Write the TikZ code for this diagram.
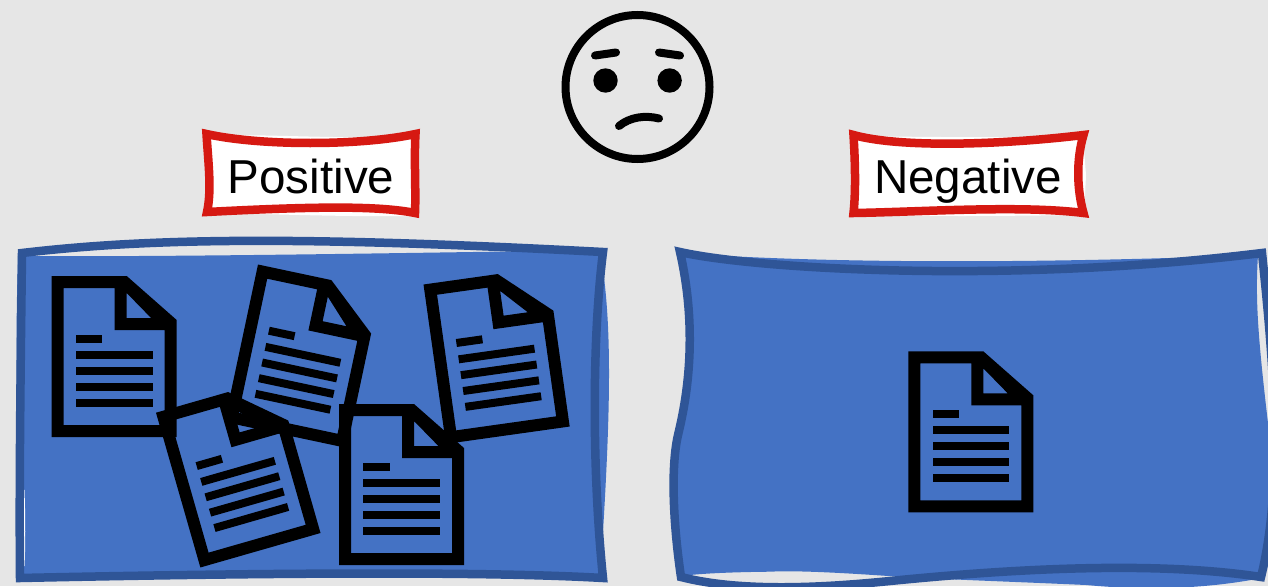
\documentclass[tikz,border=0pt]{standalone}
\usepackage{fontspec}
\setmainfont{Liberation Sans}
\definecolor{backgrey}{HTML}{E6E6E6}
\definecolor{panelfill}{HTML}{4472C4}
\definecolor{panelline}{HTML}{2F5597}
\definecolor{labred}{HTML}{D61912}
\tikzset{
  panelbg/.style={fill=panelfill},
  panelrim/.style={draw=panelline, line width=8.5pt},
  labbg/.style={fill=white},
  labrim/.style={draw=labred, line width=8.5pt},
  lab/.style={font=\fontsize{47.6pt}{52pt}\selectfont, text=black, anchor=base, inner sep=0pt},
  faceline/.style={draw=black, line width=8pt, line cap=round},
  docicon/.pic={
    \fill[black, even odd rule] (0,0) -- (75,0) -- (125,44) -- (125,161) -- (0,161) -- cycle
      (12,12) -- (63,12) -- (63,54) -- (113,54) -- (113,149) -- (12,149) -- cycle
      (75,17) -- (99.4,42) -- (75,42) -- cycle;
    \fill[black] (24.4,58.5) rectangle (50.7,66.5);
    \foreach \ly in {75,91,107,123}
      \fill[black] (24.4,\ly) rectangle (101,\ly+8);
  },
}
\begin{document}
\begin{tikzpicture}[x=1pt, y=-1pt]
  \useasboundingbox[fill=backgrey] (0,0) rectangle (1268,586);
  % left panel
  \fill[panelbg] (18,256) .. controls (150,257) and (350,254) .. (600,250)
    .. controls (612,320) and (612,400) .. (600,578) -- (24,576)
    .. controls (22,500) and (13,420) .. cycle;
  \draw[white, line width=1pt] (24,490) .. controls (25,520) and (25,545) .. (24,566);
  \draw[panelrim] (22,253) .. controls (150,238) and (300,236) .. (603,252)
    .. controls (592,340) and (592,470) .. (603,578)
    .. controls (500,572) and (300,572) .. (20,578)
    .. controls (19,480) and (21,340) .. cycle;
  % right panel
  \fill[panelbg] (680,253) .. controls (800,262) and (1000,265) .. (1258,255)
    .. controls (1255,300) and (1258,340) .. (1270,440)
    .. controls (1276,500) and (1270,540) .. (1262,578)
    .. controls (1200,590) and (1140,590) .. (1086,585)
    .. controls (1020,582) and (960,580) .. (903,577)
    .. controls (860,574) and (800,570) .. (770,571.7)
    .. controls (740,572) and (710,573) .. (690,575)
    -- (681,577)
    .. controls (674,530) and (670,470) .. (678,435)
    .. controls (684,410) and (700,340) .. cycle;
  \draw[panelrim] (680,252) .. controls (750,268) and (1000,285) .. (1262,253)
    .. controls (1272,350) and (1285,480) .. (1261,577)
    .. controls (1150,560) and (1000,570) .. (890,581)
    .. controls (820,588) and (740,592) .. (681,577)
    .. controls (674,530) and (670,470) .. (678,435)
    .. controls (684,410) and (700,340) .. cycle;
  % documents
  \pic (doca) at (51.7,276) {docicon};
  \pic[rotate=-12] (docb) at (258,264.5) {docicon};
  \pic[rotate=8] (docc) at (423.5,284.5) {docicon};
  \pic[rotate=16] (docd) at (156,412.7) {docicon};
  \pic (doce) at (339,404) {docicon};
  \pic (docf) at (908.3,351.3) {docicon};
  % labels
  \fill[labbg] (208,136) .. controls (260,133) and (340,140) .. (418,136)
    -- (419,180) -- (416,216) .. controls (340,217) and (280,214) .. (207,213) -- cycle;
  \draw[labrim] (206.5,134) .. controls (260,146) and (360,146) .. (415.5,134)
    .. controls (414,160) and (416,190) .. (415,213)
    .. controls (380,206) and (320,206) .. (207,212)
    .. controls (212,190) and (208,160) .. cycle;
  \node[lab] (poslab) at (311,193) {Positive};
  \fill[labbg] (854,136) .. controls (920,137) and (1010,138) .. (1083,136)
    -- (1086,175) -- (1084,215) .. controls (1000,216) and (920,217) .. (853,214) -- cycle;
  \draw[labrim] (853.5,135) .. controls (900,148) and (1000,145) .. (1083.5,135)
    .. controls (1076,160) and (1077,190) .. (1083.5,213)
    .. controls (1020,205) and (920,212) .. (853.5,213)
    .. controls (856,190) and (855,160) .. cycle;
  \node[lab] (neglab) at (968,193) {Negative};
  % face
  \draw[faceline] (637.5,87) circle (72);
  \fill[black] (605.5,80.5) circle (12.2) (669.6,80.5) circle (12.2);
  \draw[faceline] (595,55.5) -- (616,52.5);
  \draw[faceline] (659,52.5) -- (680,55.5);
  \draw[faceline] (619,126) .. controls (630,117) and (645,115) .. (659,118.5);
\end{tikzpicture}
\end{document}
